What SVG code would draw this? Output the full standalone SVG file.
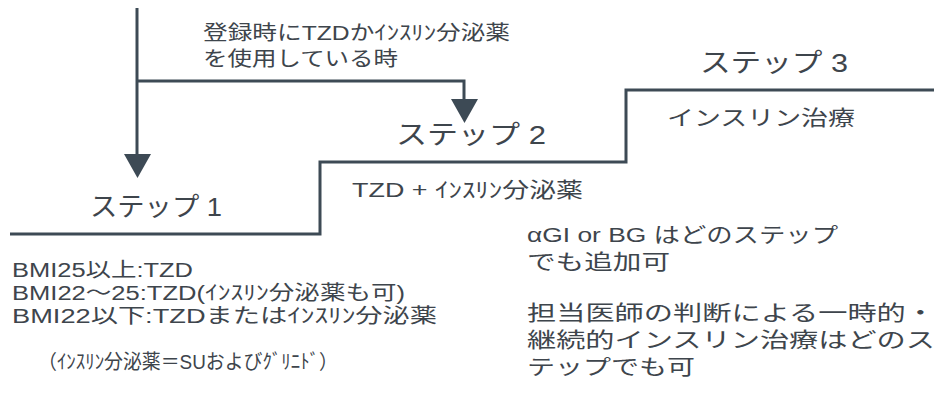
<svg xmlns="http://www.w3.org/2000/svg" width="949" height="403" viewBox="0 0 949 403">
<defs>
<style>
.t{font-family:"Liberation Sans","Noto Sans CJK JP",sans-serif;font-size:21px;fill:#3e454c;}
.b{font-family:"Liberation Sans","Noto Sans CJK JP",sans-serif;font-size:20px;fill:#3e454c;}
.s{font-family:"Liberation Sans","Noto Sans CJK JP",sans-serif;font-size:26px;fill:#3e454c;}
.ln{fill:none;stroke:#3d4a55;stroke-width:3;}
.ah{fill:#3d4a55;}
</style>
</defs>
<rect width="949" height="403" fill="#ffffff"/>
<g id="connectors">
<path class="ln" d="M137,8 V156"/>
<polygon class="ah" points="124,154 151,154 137.5,178"/>
<path class="ln" d="M137,81 H464 V101"/>
<polygon class="ah" points="451,99 478,99 464.5,123"/>
</g>
<g id="stairs">
<path class="ln" d="M10,234 H320 V162 H626 V90 H934"/>
</g>
<g id="condition">
<text class="b" x="203" y="40" textLength="307" lengthAdjust="spacingAndGlyphs">登録時にTZDかｲﾝｽﾘﾝ分泌薬</text>
<text class="b" x="203" y="66" textLength="195" lengthAdjust="spacingAndGlyphs">を使用している時</text>
</g>
<g id="step1">
<text class="s" x="90" y="216" textLength="132" lengthAdjust="spacingAndGlyphs">ステップ 1</text>
</g>
<g id="step2">
<text class="s" x="396" y="144" textLength="150" lengthAdjust="spacingAndGlyphs">ステップ 2</text>
<text class="t" x="352" y="197" textLength="231" lengthAdjust="spacingAndGlyphs">TZD + ｲﾝｽﾘﾝ分泌薬</text>
</g>
<g id="step3">
<text class="s" x="700" y="72" textLength="148" lengthAdjust="spacingAndGlyphs">ステップ 3</text>
<text class="t" x="667" y="125" textLength="188" lengthAdjust="spacingAndGlyphs">インスリン治療</text>
</g>
<g id="bmi">
<text class="b" x="12" y="277" textLength="181" lengthAdjust="spacingAndGlyphs">BMI25以上:TZD</text>
<text class="b" x="12" y="300" textLength="393" lengthAdjust="spacingAndGlyphs">BMI22～25:TZD(ｲﾝｽﾘﾝ分泌薬も可)</text>
<text class="b" x="12" y="323" textLength="425" lengthAdjust="spacingAndGlyphs">BMI22以下:TZDまたはｲﾝｽﾘﾝ分泌薬</text>
<text class="b" x="38" y="369" textLength="300" lengthAdjust="spacingAndGlyphs">（ｲﾝｽﾘﾝ分泌薬＝SUおよびｸﾞﾘﾆﾄﾞ）</text>
</g>
<g id="notes">
<text class="t" x="527" y="242" textLength="311" lengthAdjust="spacingAndGlyphs">αGI or BG はどのステップ</text>
<text class="t" x="527" y="269" textLength="143" lengthAdjust="spacingAndGlyphs">でも追加可</text>
<text class="t" x="527" y="320" textLength="408" lengthAdjust="spacingAndGlyphs">担当医師の判断による一時的・</text>
<text class="t" x="527" y="347" textLength="408" lengthAdjust="spacingAndGlyphs">継続的インスリン治療はどのス</text>
<text class="t" x="527" y="374" textLength="168" lengthAdjust="spacingAndGlyphs">テップでも可</text>
</g>
</svg>
